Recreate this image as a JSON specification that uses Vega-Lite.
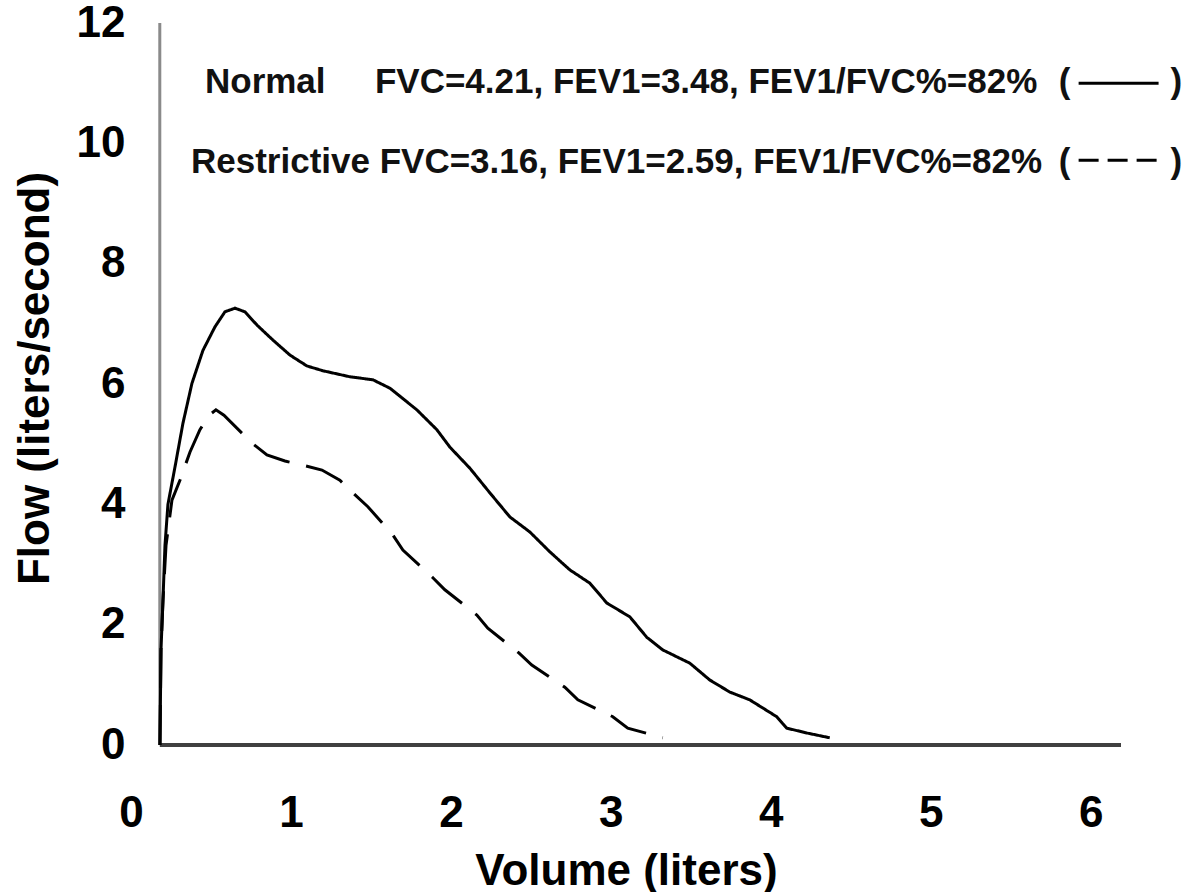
{
  "$schema": "https://vega.github.io/schema/vega-lite/v6.json",
  "width": 990,
  "height": 722,
  "autosize": {"type": "none"},
  "padding": {"left": 131, "top": 23, "right": 70, "bottom": 147},
  "background": "white",
  "config": {
    "view": {"stroke": null},
    "axis": {
      "grid": false, "domain": false, "ticks": false, "tickSize": 0,
      "labelFont": "Liberation Sans", "labelFontSize": 44, "labelFontWeight": "bold", "labelColor": "#000",
      "titleFont": "Liberation Sans", "titleFontSize": 44, "titleFontWeight": "bold", "titleColor": "#000",
      "labelFlush": false, "labelOverlap": false, "format": "d"
    },
    "text": {"font": "Liberation Sans", "fontSize": 35, "fontWeight": "bold", "color": "#111"}
  },
  "layer": [
    {
      "data": {"values": [{}]},
      "mark": {"type": "rule", "color": "#8a8a8a", "strokeWidth": 3},
      "encoding": {"x": {"datum": 0.18, "type": "quantitative"}, "y": {"datum": 0, "type": "quantitative"}, "y2": {"datum": 12}}
    },
    {
      "data": {"values": [{}]},
      "mark": {"type": "rule", "color": "#404040", "strokeWidth": 4},
      "encoding": {"x": {"datum": 0.18, "type": "quantitative"}, "x2": {"datum": 6.19}, "y": {"datum": 0, "type": "quantitative"}}
    },
    {
      "data": {"values": [
        {"series": "Normal", "volume": 0.181, "flow": 0},
        {"series": "Normal", "volume": 0.1875, "flow": 1.58},
        {"series": "Normal", "volume": 0.2, "flow": 2.41},
        {"series": "Normal", "volume": 0.2125, "flow": 3.32},
        {"series": "Normal", "volume": 0.231, "flow": 4.0},
        {"series": "Normal", "volume": 0.275, "flow": 4.62},
        {"series": "Normal", "volume": 0.325, "flow": 5.35},
        {"series": "Normal", "volume": 0.381, "flow": 6.01},
        {"series": "Normal", "volume": 0.45, "flow": 6.56},
        {"series": "Normal", "volume": 0.525, "flow": 6.95},
        {"series": "Normal", "volume": 0.5875, "flow": 7.2},
        {"series": "Normal", "volume": 0.65, "flow": 7.26},
        {"series": "Normal", "volume": 0.7125, "flow": 7.2},
        {"series": "Normal", "volume": 0.7875, "flow": 6.98},
        {"series": "Normal", "volume": 0.8875, "flow": 6.73},
        {"series": "Normal", "volume": 0.994, "flow": 6.48},
        {"series": "Normal", "volume": 1.1, "flow": 6.3},
        {"series": "Normal", "volume": 1.2, "flow": 6.22},
        {"series": "Normal", "volume": 1.369, "flow": 6.12},
        {"series": "Normal", "volume": 1.5125, "flow": 6.07},
        {"series": "Normal", "volume": 1.619, "flow": 5.93},
        {"series": "Normal", "volume": 1.7875, "flow": 5.57},
        {"series": "Normal", "volume": 1.9125, "flow": 5.24},
        {"series": "Normal", "volume": 1.994, "flow": 4.95},
        {"series": "Normal", "volume": 2.119, "flow": 4.6},
        {"series": "Normal", "volume": 2.244, "flow": 4.19},
        {"series": "Normal", "volume": 2.369, "flow": 3.79},
        {"series": "Normal", "volume": 2.494, "flow": 3.54},
        {"series": "Normal", "volume": 2.619, "flow": 3.21},
        {"series": "Normal", "volume": 2.744, "flow": 2.91},
        {"series": "Normal", "volume": 2.869, "flow": 2.69},
        {"series": "Normal", "volume": 2.975, "flow": 2.36},
        {"series": "Normal", "volume": 3.119, "flow": 2.13},
        {"series": "Normal", "volume": 3.225, "flow": 1.79},
        {"series": "Normal", "volume": 3.325, "flow": 1.58},
        {"series": "Normal", "volume": 3.494, "flow": 1.36},
        {"series": "Normal", "volume": 3.619, "flow": 1.08},
        {"series": "Normal", "volume": 3.744, "flow": 0.88},
        {"series": "Normal", "volume": 3.869, "flow": 0.75},
        {"series": "Normal", "volume": 4.0375, "flow": 0.47},
        {"series": "Normal", "volume": 4.1, "flow": 0.28},
        {"series": "Normal", "volume": 4.225, "flow": 0.2},
        {"series": "Normal", "volume": 4.369, "flow": 0.12},
        {"series": "Restrictive", "volume": 0.181, "flow": 0},
        {"series": "Restrictive", "volume": 0.1875, "flow": 1.58},
        {"series": "Restrictive", "volume": 0.2, "flow": 2.41},
        {"series": "Restrictive", "volume": 0.219, "flow": 3.32},
        {"series": "Restrictive", "volume": 0.256, "flow": 4.07},
        {"series": "Restrictive", "volume": 0.306, "flow": 4.4},
        {"series": "Restrictive", "volume": 0.369, "flow": 4.87},
        {"series": "Restrictive", "volume": 0.431, "flow": 5.24},
        {"series": "Restrictive", "volume": 0.4875, "flow": 5.48},
        {"series": "Restrictive", "volume": 0.531, "flow": 5.57},
        {"series": "Restrictive", "volume": 0.581, "flow": 5.48},
        {"series": "Restrictive", "volume": 0.756, "flow": 5.02},
        {"series": "Restrictive", "volume": 0.85, "flow": 4.82},
        {"series": "Restrictive", "volume": 0.9625, "flow": 4.72},
        {"series": "Restrictive", "volume": 1.075, "flow": 4.65},
        {"series": "Restrictive", "volume": 1.194, "flow": 4.57},
        {"series": "Restrictive", "volume": 1.306, "flow": 4.4},
        {"series": "Restrictive", "volume": 1.3875, "flow": 4.19},
        {"series": "Restrictive", "volume": 1.481, "flow": 3.96},
        {"series": "Restrictive", "volume": 1.6375, "flow": 3.49},
        {"series": "Restrictive", "volume": 1.7, "flow": 3.24},
        {"series": "Restrictive", "volume": 1.8875, "flow": 2.78},
        {"series": "Restrictive", "volume": 1.9625, "flow": 2.58},
        {"series": "Restrictive", "volume": 2.1625, "flow": 2.16},
        {"series": "Restrictive", "volume": 2.231, "flow": 1.94},
        {"series": "Restrictive", "volume": 2.425, "flow": 1.53},
        {"series": "Restrictive", "volume": 2.506, "flow": 1.33},
        {"series": "Restrictive", "volume": 2.7125, "flow": 0.96},
        {"series": "Restrictive", "volume": 2.794, "flow": 0.75},
        {"series": "Restrictive", "volume": 3.0125, "flow": 0.47},
        {"series": "Restrictive", "volume": 3.106, "flow": 0.28},
        {"series": "Restrictive", "volume": 3.325, "flow": 0.12}
      ]},
      "mark": {"type": "line", "color": "#000", "strokeWidth": 3},
      "encoding": {
        "x": {"field": "volume", "type": "quantitative", "scale": {"domain": [0, 6.19], "nice": false, "zero": false},
              "axis": {"values": [0, 1, 2, 3, 4, 5, 6], "labelPadding": 46, "title": "Volume (liters)", "titleY": 104}},
        "y": {"field": "flow", "type": "quantitative", "scale": {"domain": [0, 12], "nice": false},
              "axis": {"values": [0, 2, 4, 6, 8, 10, 12], "labelPadding": 6, "title": "Flow (liters/second)", "titleX": -74, "titleY": 355}},
        "strokeDash": {"field": "series", "type": "nominal", "scale": {"domain": ["Normal", "Restrictive"], "range": [[1, 0], [40, 17]]}, "legend": null}
      }
    },
    {
      "data": {"values": [{}]},
      "mark": {"type": "text", "text": "Normal", "align": "left", "baseline": "alphabetic"},
      "encoding": {"x": {"datum": 0.4625, "type": "quantitative"}, "y": {"datum": 10.836, "type": "quantitative"}}
    },
    {
      "data": {"values": [{}]},
      "mark": {"type": "text", "text": "FVC=4.21, FEV1=3.48, FEV1/FVC%=82%", "align": "left", "baseline": "alphabetic"},
      "encoding": {"x": {"datum": 1.525, "type": "quantitative"}, "y": {"datum": 10.836, "type": "quantitative"}}
    },
    {
      "data": {"values": [{}]},
      "mark": {"type": "text", "text": "Restrictive FVC=3.16, FEV1=2.59, FEV1/FVC%=82%", "align": "left", "baseline": "alphabetic"},
      "encoding": {"x": {"datum": 0.375, "type": "quantitative"}, "y": {"datum": 9.506, "type": "quantitative"}}
    },
    {
      "data": {"values": [{}]},
      "mark": {"type": "text", "text": "(", "align": "left", "baseline": "alphabetic"},
      "encoding": {"x": {"datum": 5.8, "type": "quantitative"}, "y": {"datum": 10.836, "type": "quantitative"}}
    },
    {
      "data": {"values": [{}]},
      "mark": {"type": "text", "text": ")", "align": "left", "baseline": "alphabetic"},
      "encoding": {"x": {"datum": 6.5, "type": "quantitative"}, "y": {"datum": 10.836, "type": "quantitative"}}
    },
    {
      "data": {"values": [{}]},
      "mark": {"type": "text", "text": "(", "align": "left", "baseline": "alphabetic"},
      "encoding": {"x": {"datum": 5.8, "type": "quantitative"}, "y": {"datum": 9.506, "type": "quantitative"}}
    },
    {
      "data": {"values": [{}]},
      "mark": {"type": "text", "text": ")", "align": "left", "baseline": "alphabetic"},
      "encoding": {"x": {"datum": 6.5, "type": "quantitative"}, "y": {"datum": 9.506, "type": "quantitative"}}
    },
    {
      "data": {"values": [{}]},
      "mark": {"type": "rule", "color": "#000", "strokeWidth": 3},
      "encoding": {"x": {"datum": 5.925, "type": "quantitative"}, "x2": {"datum": 6.425}, "y": {"datum": 11.0, "type": "quantitative"}}
    },
    {
      "data": {"values": [{}]},
      "mark": {"type": "rule", "color": "#000", "strokeWidth": 3, "strokeDash": [20, 9]},
      "encoding": {"x": {"datum": 5.925, "type": "quantitative"}, "x2": {"datum": 6.44}, "y": {"datum": 9.72, "type": "quantitative"}}
    }
  ]
}
